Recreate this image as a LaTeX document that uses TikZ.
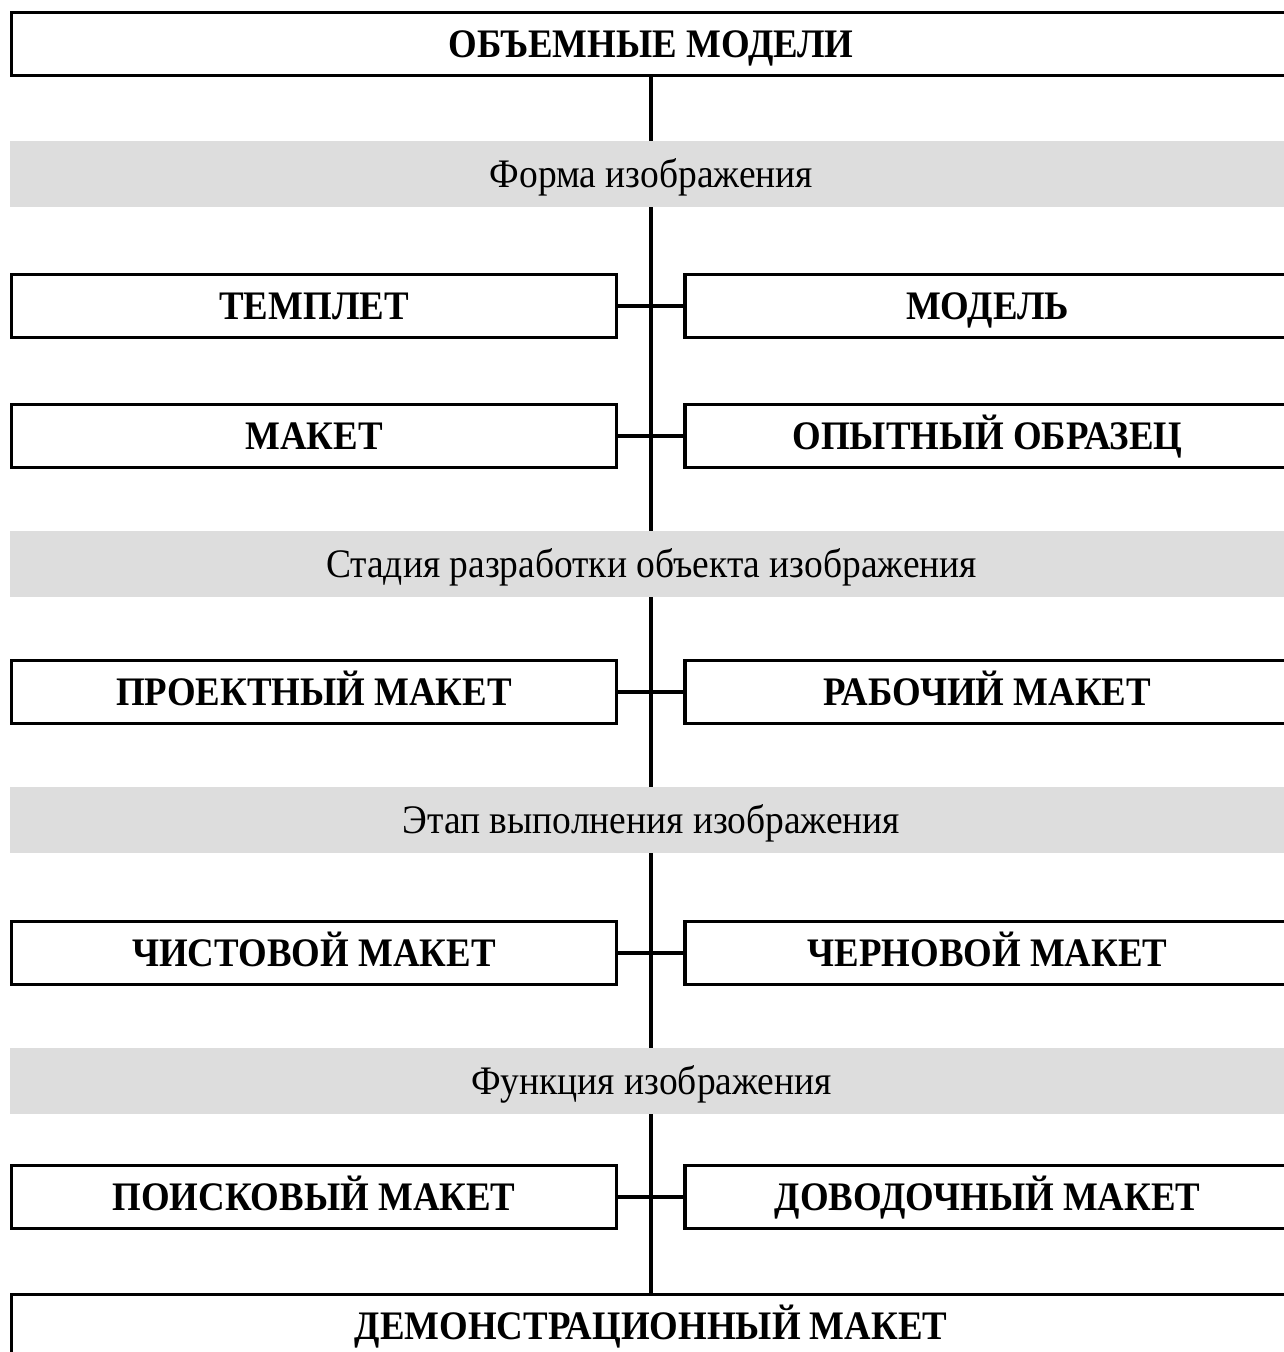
\documentclass[tikz,border=0pt]{standalone}
\usepackage{fontspec}
\setmainfont{Liberation Serif}[FakeStretch=0.925, BoldFeatures={FakeStretch=0.91}]
\definecolor{bandgray}{RGB}{221,221,221}
\tikzset{
  box/.style={draw, line width=3.6pt, rectangle, inner sep=0pt,
    minimum height=63pt, text height=26.8pt, text depth=0pt,
    font=\fontsize{40.5}{48}\selectfont\bfseries},
  halfbox/.style={box, minimum width=605pt},
  widebox/.style={box, minimum width=1279pt},
  band/.style={fill=bandgray, rectangle, inner sep=0pt, minimum width=1283pt,
    minimum height=66pt, text height=26.8pt, text depth=0pt,
    font=\fontsize{40.5}{48}\selectfont},
  link/.style={line width=3.1pt}
}
\begin{document}
\begin{tikzpicture}[x=1pt,y=-1pt]
\useasboundingbox (0,0) rectangle (1283,1352);
\fill[white] (0,0) rectangle (1283,1352);
% nodes
\node[widebox] (top) at (651,44) {ОБЪЕМНЫЕ МОДЕЛИ};
\node[band] (b1) at (651.5,174) {Форма изображения};
\node[halfbox] (l1) at (314,306) {ТЕМПЛЕТ};
\node[halfbox] (r1) at (987.5,306) {МОДЕЛЬ};
\node[halfbox] (l2) at (314,436) {МАКЕТ};
\node[halfbox] (r2) at (987.5,436) {ОПЫТНЫЙ ОБРАЗЕЦ};
\node[band] (b2) at (651.5,564) {Стадия разработки объекта изображения};
\node[halfbox] (l3) at (314,692) {ПРОЕКТНЫЙ МАКЕТ};
\node[halfbox] (r3) at (987.5,692) {РАБОЧИЙ МАКЕТ};
\node[band] (b3) at (651.5,820) {Этап выполнения изображения};
\node[halfbox] (l4) at (314,953) {ЧИСТОВОЙ МАКЕТ};
\node[halfbox] (r4) at (987.5,953) {ЧЕРНОВОЙ МАКЕТ};
\node[band] (b4) at (651.5,1081) {Функция изображения};
\node[halfbox] (l5) at (314,1197) {ПОИСКОВЫЙ МАКЕТ};
\node[halfbox] (r5) at (987.5,1197) {ДОВОДОЧНЫЙ МАКЕТ};
\node[widebox] (bot) at (651,1326) {ДЕМОНСТРАЦИОННЫЙ МАКЕТ};
% connectors
\draw[link] (top.south) -- (top.south |- b1.north);
\draw[link] (top.south |- b1.south) -- (top.south |- b2.north);
\draw[link] (top.south |- b2.south) -- (top.south |- b3.north);
\draw[link] (top.south |- b3.south) -- (top.south |- b4.north);
\draw[link] (top.south |- b4.south) -- (bot.north);
\draw[link] (l1.east) -- (r1.west);
\draw[link] (l2.east) -- (r2.west);
\draw[link] (l3.east) -- (r3.west);
\draw[link] (l4.east) -- (r4.west);
\draw[link] (l5.east) -- (r5.west);
\end{tikzpicture}
\end{document}
